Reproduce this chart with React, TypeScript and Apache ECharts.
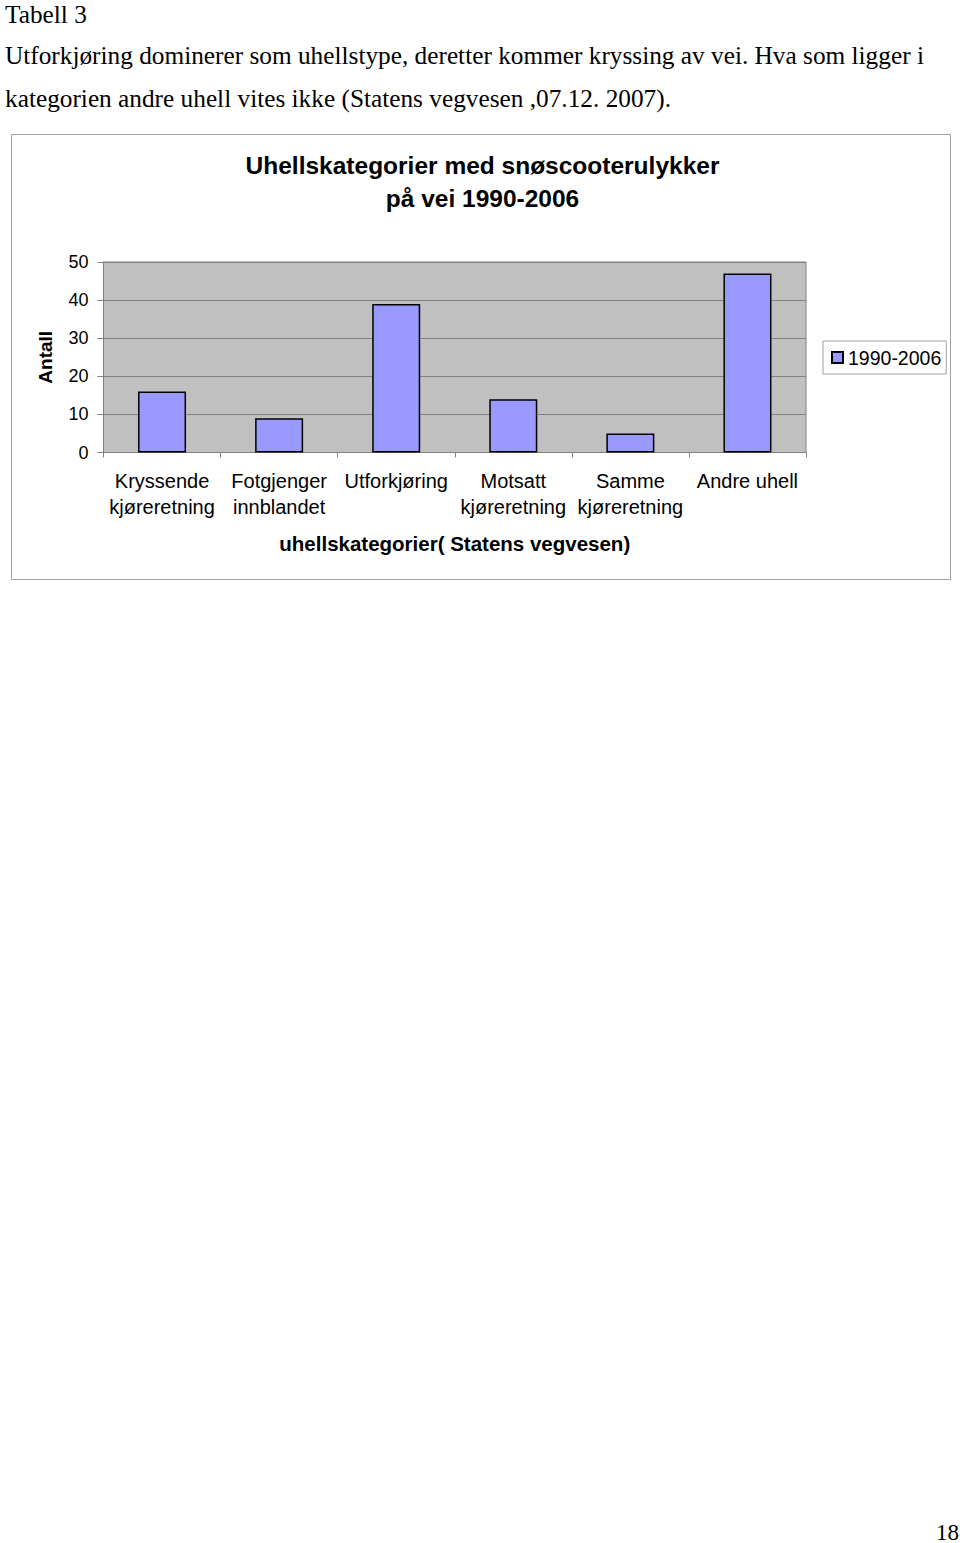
import React, { useEffect, useRef } from "react";
import * as echarts from "echarts";

const categories = [
  "Kryssende\nkjøreretning",
  "Fotgjenger\ninnblandet",
  "Utforkjøring",
  "Motsatt\nkjøreretning",
  "Samme\nkjøreretning",
  "Andre uhell",
];
const values = [16, 9, 39, 14, 5, 47];
const seriesName = "1990-2006";
const yTicks = { min: 0, max: 50, interval: 10 };
const titleLines = ["Uhellskategorier med snøscooterulykker", "på vei 1990-2006"];
const pageLines = [
  "Tabell 3",
  "Utforkjøring dominerer som uhellstype, deretter kommer kryssing av vei. Hva som ligger i",
  "kategorien andre uhell vites ikke (Statens vegvesen ,07.12. 2007).",
];
const pageNumber = "18";

const SANS = "'Liberation Sans', Arial, sans-serif";
const SERIF = "'Liberation Serif', 'Times New Roman', serif";

export default function App() {
  const ref = useRef<HTMLDivElement>(null);
  useEffect(() => {
    if (!ref.current) return;
    const chart = echarts.init(ref.current, null, { renderer: "svg" });
    const lineY = [13.5, 55, 98];
    const titleY = [165, 198];
    chart.setOption({
      animation: false,
      backgroundColor: "#ffffff",
      textStyle: { fontFamily: SANS },
      legend: {
        left: 823,
        top: 341,
        orient: "vertical",
        padding: [6, 5, 6, 8],
        borderColor: "#a0a0a0",
        borderWidth: 1,
        itemWidth: 11,
        itemHeight: 11,
        itemGap: 5,
        icon: "rect",
        textStyle: { fontFamily: SANS, fontSize: 19.5, color: "#000", lineHeight: 21 },
        data: [seriesName],
      },
      grid: {
        left: 103.5,
        top: 262,
        width: 702.5,
        height: 190.5,
        show: true,
        backgroundColor: "#c0c0c0",
        borderColor: "#808080",
        borderWidth: 1,
        containLabel: false,
      },
      xAxis: {
        type: "category",
        data: categories,
        name: "uhellskategorier( Statens vegvesen)",
        nameLocation: "middle",
        nameGap: 80,
        nameTextStyle: { fontFamily: SANS, fontSize: 20.5, fontWeight: "bold", color: "#000" },
        axisLine: { lineStyle: { color: "#808080", width: 1 } },
        axisTick: { show: true, alignWithLabel: false, length: 5, lineStyle: { color: "#808080" } },
        axisLabel: {
          interval: 0,
          margin: 15,
          fontFamily: SANS,
          fontSize: 20,
          color: "#000",
          lineHeight: 26,
        },
      },
      yAxis: {
        type: "value",
        min: yTicks.min,
        max: yTicks.max,
        interval: yTicks.interval,
        name: "Antall",
        nameLocation: "middle",
        nameGap: 49,
        nameTextStyle: { fontFamily: SANS, fontSize: 19, fontWeight: "bold", color: "#000" },
        axisLine: { show: true, lineStyle: { color: "#808080", width: 1 } },
        axisTick: { show: true, length: 6, lineStyle: { color: "#808080" } },
        axisLabel: { margin: 15, fontFamily: SANS, fontSize: 18, color: "#000" },
        splitLine: { show: true, lineStyle: { color: "#808080", width: 1 } },
      },
      series: [
        {
          name: seriesName,
          type: "bar",
          data: values,
          barWidth: "41%",
          itemStyle: { color: "#9999ff", borderColor: "#000000", borderWidth: 1.5 },
        },
      ],
      graphic: [
        {
          type: "rect",
          z: -1,
          shape: { x: 11.5, y: 134.5, width: 939, height: 445 },
          style: { fill: "none", stroke: "#a0a0a0", lineWidth: 1 },
        },
        ...titleLines.map((t, i) => ({
          type: "text",
          x: 482.5,
          y: titleY[i],
          style: {
            text: t,
            fontFamily: SANS,
            fontSize: 24.5,
            fontWeight: "bold",
            fill: "#000",
            textAlign: "center",
            textVerticalAlign: "middle",
          },
        })),
        ...pageLines.map((t, i) => ({
          type: "text",
          x: 5,
          y: lineY[i],
          style: {
            text: t,
            fontFamily: SERIF,
            fontSize: 25.3,
            fill: "#000",
            textVerticalAlign: "middle",
          },
        })),
        {
          type: "text",
          x: 959,
          y: 1532,
          style: {
            text: pageNumber,
            fontFamily: SERIF,
            fontSize: 23,
            fill: "#000",
            textAlign: "right",
            textVerticalAlign: "middle",
          },
        },
      ],
    });
    return () => chart.dispose();
  }, []);
  return (
    <div
      ref={ref}
      style={{ position: "absolute", left: 0, top: 0, width: 960, height: 1543 }}
    />
  );
}
